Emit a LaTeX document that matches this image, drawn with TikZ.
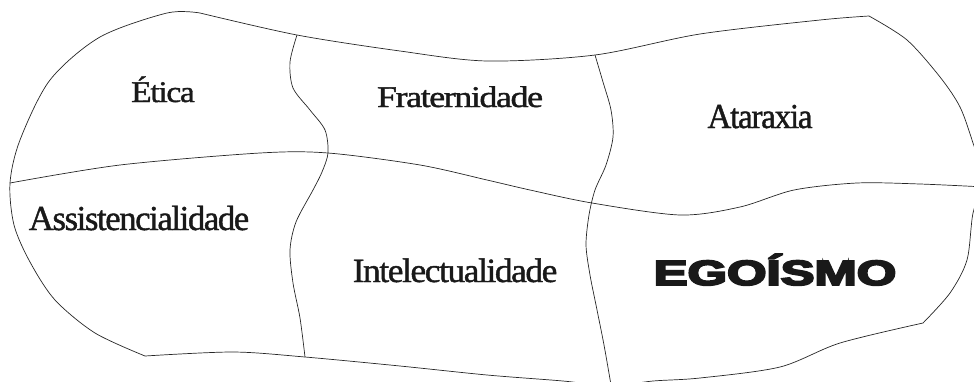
\documentclass[tikz,border=0pt]{standalone}
\usepackage{fontspec}
\usepackage{graphicx}
\newfontfamily\regionfont[LetterSpace=-4, FakeBold=1.2]{Liberation Serif}
\newfontfamily\heavyfont[FakeBold=5]{Liberation Sans}
\tikzset{
  border/.style={line width=0.7pt, black!85, line join=round},
  region/.style={anchor=base, inner sep=0pt, text=black!90},
  serif/.style={font=\regionfont\fontsize{#1}{#1}\selectfont},
}
\newcommand{\stretched}[2]{\scalebox{#1}[1]{#2}}

\begin{document}
\begin{tikzpicture}[x=1pt, y=-1pt]
  \useasboundingbox (0,0) rectangle (974,381);
  \clip (0,0) rectangle (974,381);

  % outline
  \draw[border] plot[smooth] coordinates {(200,13) (167,13) (100,37) (50,80)
    (20,140) (10,183) (14,225) (30,262) (55,300) (95,333) (145,356)};
  \draw[border] plot[smooth] coordinates {(200,13) (297,35) (400,51) (487,61)
    (595,55) (700,34) (820,20) (869,16)};
  \draw[border] plot[smooth] coordinates {(869,16) (907,40) (940,77) (960,107)
    (973,143) (984,180) (973,213) (967,260) (950,293) (923,323)};
  \draw[border] plot[smooth] coordinates {(923,323) (840,343) (780,367)
    (700,378) (653,381) (610,386) (563,381) (487,375) (400,366) (305,357)
    (233,352) (145,356)};

  % dividers
  \draw[border] plot[smooth] coordinates {(10,183) (120,165) (260,153)
    (328,153) (420,165) (487,180) (530,190) (592,203) (680,215) (740,207)
    (794,190) (857,183) (920,184) (985,187)};
  \draw[border] plot[smooth] coordinates {(297,35) (290,62) (293,88) (310,110)
    (325,130) (328,153) (322,172) (313,190) (296,222) (290,250) (293,283)
    (300,318) (305,357)};
  \draw[border] plot[smooth] coordinates {(595,55) (603,82) (611,110)
    (613,137) (606,165) (595,190) (589,215) (586,245) (590,275) (596,305)
    (604,345) (611,385)};

  % labels
  \node[region, serif=30] (etica) at (163,102) {\stretched{1.12}{Ética}};
  \node[region, serif=30] (frat) at (460,107) {\stretched{1.2}{Fraternidade}};
  \node[region, serif=35] (atar) at (760,128) {\stretched{0.95}{Ataraxia}};
  \node[region, serif=35] (assist) at (139,230) {\stretched{0.99}{Assistencialidade}};
  \node[region, serif=34] (intel) at (455,282) {\stretched{1.04}{Intelectualidade}};
  \node[region, font=\heavyfont\bfseries\fontsize{35}{35}\selectfont] (ego)
    at (775,285) {\stretched{1.45}{EGOÍSMO}};
\end{tikzpicture}
\end{document}
